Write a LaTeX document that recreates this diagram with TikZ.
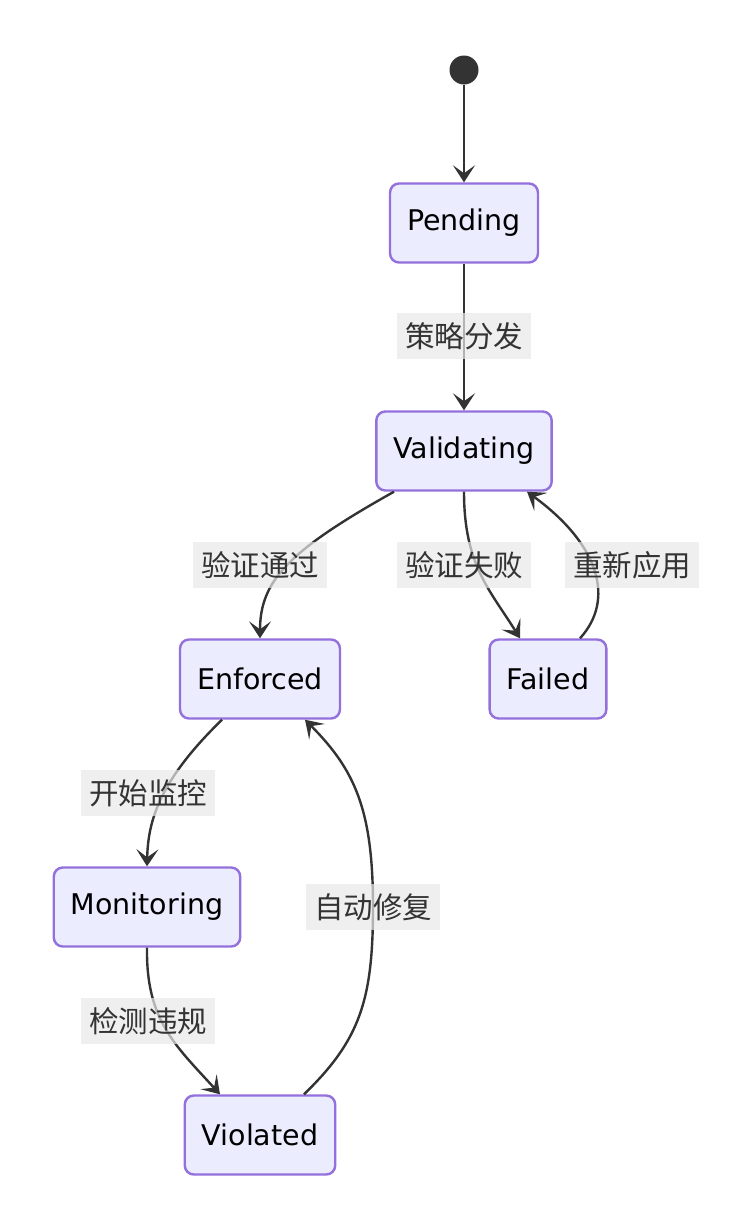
\documentclass[tikz,border=0pt]{standalone}
\usepackage{fontspec}
\setmainfont{DejaVu Sans}
\newfontfamily\cjk{Noto Sans CJK SC}
\usetikzlibrary{arrows.meta}
\definecolor{stfill}{HTML}{ECECFF}
\definecolor{stdraw}{HTML}{9370DB}
\definecolor{edgecol}{HTML}{333333}
\definecolor{lblfill}{HTML}{E8E8E8}
\tikzstyle{state}=[draw=stdraw,fill=stfill,rounded corners=9pt,line width=2.4pt,inner xsep=17pt,minimum height=79pt,text=black,font=\fontsize{28.5}{34}\selectfont]
\tikzstyle{lbl}=[fill=lblfill,fill opacity=0.7,text opacity=1,text=edgecol,inner xsep=8pt,inner ysep=0pt,minimum height=46pt,font=\cjk\fontsize{29.5}{34}\selectfont]
\tikzstyle{edge}=[draw=edgecol,line width=2.4pt,-{Stealth[length=17pt,width=22pt,inset=8pt]}]

\begin{document}
\begin{tikzpicture}[x=1pt,y=-1pt]
	\useasboundingbox (0,0) rectangle (752,1232);
	\node (start) [circle,fill=edgecol,minimum size=29pt,inner sep=0pt] at (464,70) {};
	\node (pend) [state] at (464,223) {Pending};
	\node (val) [state] at (464,451) {Validating};
	\node (enf) [state] at (260,679) {Enforced};
	\node (fail) [state] at (548,679) {Failed};
	\node (mon) [state] at (147,907) {Monitoring};
	\node (vio) [state] at (260,1135) {Violated};
	% transitions
	\draw[edge] (start) -- (pend);
	\draw[edge] (pend) -- (val);
	\draw[edge] ([xshift=-70pt]val.south) .. controls (290,550) and (260,580) .. (enf.north);
	\draw[edge] (val.south) .. controls (464,565) and (490,590) .. ([xshift=-28pt]fail.north);
	\draw[edge] ([xshift=32pt]fail.north) .. controls (615,600) and (600,545) .. ([xshift=63pt]val.south);
	\draw[edge] ([xshift=-38pt]enf.south) .. controls (160,780) and (148,820) .. (mon.north);
	\draw[edge] (mon.south) .. controls (146,1020) and (175,1045) .. ([xshift=-40pt]vio.north);
	\draw[edge] ([xshift=44pt]vio.north) .. controls (360,1040) and (373,1000) .. (373,907)
		.. controls (373,810) and (355,770) .. ([xshift=45pt]enf.south);
	% labels
	\node (l1) [lbl] at (464,336) {策略分发};
	\node (l2) [lbl] at (260,565) {验证通过};
	\node (l3) [lbl] at (464,565) {验证失败};
	\node (l4) [lbl] at (632,565) {重新应用};
	\node (l5) [lbl] at (148,793) {开始监控};
	\node (l6) [lbl] at (148,1021) {检测违规};
	\node (l7) [lbl] at (373,907) {自动修复};
\end{tikzpicture}
\end{document}
